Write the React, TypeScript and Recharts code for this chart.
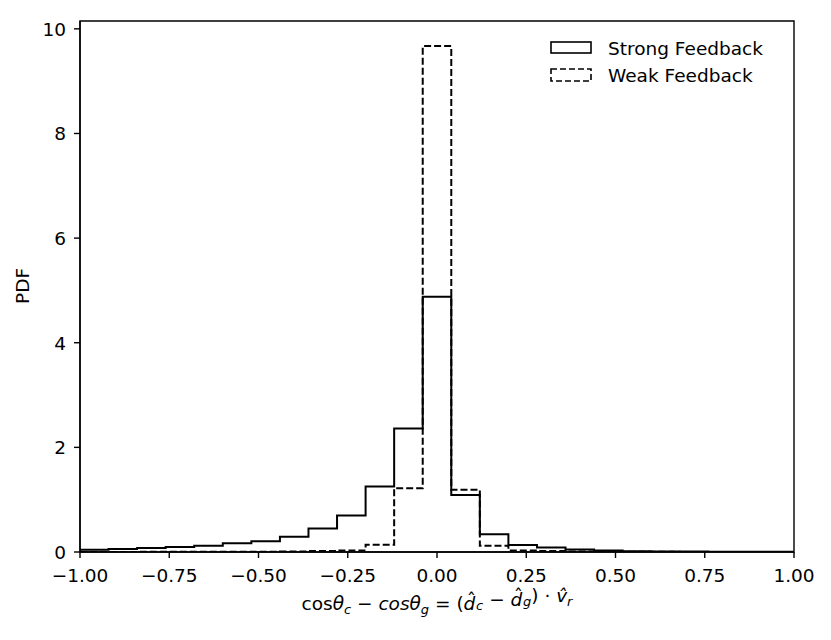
import React from "react";
import {
  ComposedChart,
  Line,
  XAxis,
  YAxis,
  Label,
  ReferenceArea,
} from "recharts";

// bin edges (25 bins of width 0.08 over [-1, 1])
const binEdges = [
  -1, -0.92, -0.84, -0.76, -0.68, -0.6, -0.52, -0.44, -0.36, -0.28, -0.2,
  -0.12, -0.04, 0.04, 0.12, 0.2, 0.28, 0.36, 0.44, 0.52, 0.6, 0.68, 0.76,
  0.84, 0.92, 1,
];

const strongFeedback = [
  0.045, 0.058, 0.077, 0.096, 0.12, 0.165, 0.205, 0.29, 0.45, 0.7, 1.25, 2.36,
  4.88, 1.09, 0.34, 0.135, 0.085, 0.046, 0.027, 0.016, 0.011, 0.008, 0.006,
  0.004, 0.003,
];

const weakFeedback = [
  0.002, 0.002, 0.003, 0.003, 0.004, 0.005, 0.006, 0.01, 0.02, 0.03, 0.14,
  1.22, 9.67, 1.19, 0.12, 0.03, 0.02, 0.008, 0.005, 0.003, 0.003, 0.002,
  0.002, 0.001, 0.001,
];

const xTicks = [-1, -0.75, -0.5, -0.25, 0, 0.25, 0.5, 0.75, 1];
const yTicks = [0, 2, 4, 6, 8, 10];

const FONT = "'DejaVu Sans', sans-serif";
const FONT_SIZE = 18.5;

// step outline: start on the baseline, end back on the baseline
const rows = [
  { x: binEdges[0], strong: 0, weak: 0 },
  ...binEdges.map((x, i) => ({
    x,
    strong: strongFeedback[i] ?? 0,
    weak: weakFeedback[i] ?? 0,
  })),
];

const fmtX = (v: number) => v.toFixed(2).replace("-", "\u2212");

function XTick({ x, y, payload }: any) {
  return (
    <text
      x={x}
      y={y + 22}
      textAnchor="middle"
      fontFamily={FONT}
      fontSize={FONT_SIZE}
      fill="#000"
    >
      {fmtX(payload.value)}
    </text>
  );
}

function YTick({ x, y, payload }: any) {
  return (
    <text
      x={x - 6}
      y={y + 6.8}
      textAnchor="end"
      fontFamily={FONT}
      fontSize={FONT_SIZE}
      fill="#000"
    >
      {payload.value}
    </text>
  );
}

// d with a hat placed by hand (combining mark sits badly on italic d)
function HatD() {
  return (
    <>
      <tspan fontStyle="italic">d</tspan>
      <tspan dx={-8.5} dy={-4}>{"\u02C6"}</tspan>
      <tspan dx={-0.8} dy={4}>{""}</tspan>
    </>
  );
}

function XLabel({ viewBox }: any) {
  const cx = viewBox.x + viewBox.width / 2;
  const sub = { fontSize: 13 };
  return (
    <text
      x={cx}
      y={610}
      textAnchor="middle"
      fontFamily={FONT}
      fontSize={FONT_SIZE}
      fill="#000"
    >
      <tspan>cos</tspan>
      <tspan fontStyle="italic">θ</tspan>
      <tspan fontStyle="italic" dy={4} {...sub}>c</tspan>
      <tspan dy={-4}> − </tspan>
      <tspan fontStyle="italic">cosθ</tspan>
      <tspan fontStyle="italic" dy={4} {...sub}>g</tspan>
      <tspan dy={-4}> = (</tspan>
      <HatD />
      <tspan fontStyle="italic" dy={4} {...sub}>c</tspan>
      <tspan dy={-4}> − </tspan>
      <HatD />
      <tspan fontStyle="italic" dy={4} {...sub}>g</tspan>
      <tspan dy={-4}>) · </tspan>
      <tspan fontStyle="italic">{"v\u0302"}</tspan>
      <tspan fontStyle="italic" dy={4} {...sub}>r</tspan>
    </text>
  );
}

function YLabel() {
  return (
    <text
      x={0}
      y={0}
      transform="translate(29 286) rotate(-90)"
      textAnchor="middle"
      fontFamily={FONT}
      fontSize={FONT_SIZE}
      fill="#000"
    >
      PDF
    </text>
  );
}

function HistLegend() {
  return (
    <svg width={250} height={60} style={{ display: "block" }}>
      <rect x={2} y={6} width={40} height={11} fill="none" stroke="#000" strokeWidth={1.6} />
      <text x={59} y={18.5} fontFamily={FONT} fontSize={FONT_SIZE} fill="#000">
        Strong Feedback
      </text>
      <rect
        x={2}
        y={33}
        width={40}
        height={12}
        fill="none"
        stroke="#000"
        strokeWidth={1.6}
        strokeDasharray="6 3"
      />
      <text x={59} y={45.5} fontFamily={FONT} fontSize={FONT_SIZE} fill="#000">
        Weak Feedback
      </text>
    </svg>
  );
}

export default function App() {
  return (
    <div
      style={{
        position: "absolute",
        left: 0,
        top: 0,
        width: 831,
        height: 640,
        background: "#fff",
      }}
    >
      <ComposedChart
        width={831}
        height={640}
        data={rows}
        margin={{ top: 21, right: 37, bottom: 48, left: 20 }}
      >
        <XAxis
          dataKey="x"
          type="number"
          domain={[-1, 1]}
          ticks={xTicks}
          allowDataOverflow
          height={40}
          tick={<XTick />}
          tickSize={6}
          tickLine={{ stroke: "#000", strokeWidth: 1.4 }}
          axisLine={{ stroke: "#000", strokeWidth: 1.4 }}
        >
          <Label content={<XLabel />} />
        </XAxis>
        <YAxis
          type="number"
          domain={[0, 10.15]}
          ticks={yTicks}
          allowDataOverflow
          width={60}
          tick={<YTick />}
          tickSize={6}
          tickLine={{ stroke: "#000", strokeWidth: 1.4 }}
          axisLine={{ stroke: "#000", strokeWidth: 1.4 }}
        >
          <Label content={<YLabel />} />
        </YAxis>
        <ReferenceArea
          x1={-1}
          x2={1}
          y1={0}
          y2={10.15}
          fill="none"
          stroke="#000"
          strokeWidth={1.4}
          ifOverflow="visible"
        />
        <Line
          dataKey="strong"
          type="stepAfter"
          stroke="#000"
          strokeWidth={2}
          dot={false}
          activeDot={false}
          isAnimationActive={false}
        />
        <Line
          dataKey="weak"
          type="stepAfter"
          stroke="#000"
          strokeWidth={2}
          strokeDasharray="7 3"
          dot={false}
          activeDot={false}
          isAnimationActive={false}
        />
      </ComposedChart>
      <div style={{ position: "absolute", left: 549, top: 36 }}>
        <HistLegend />
      </div>
    </div>
  );
}
